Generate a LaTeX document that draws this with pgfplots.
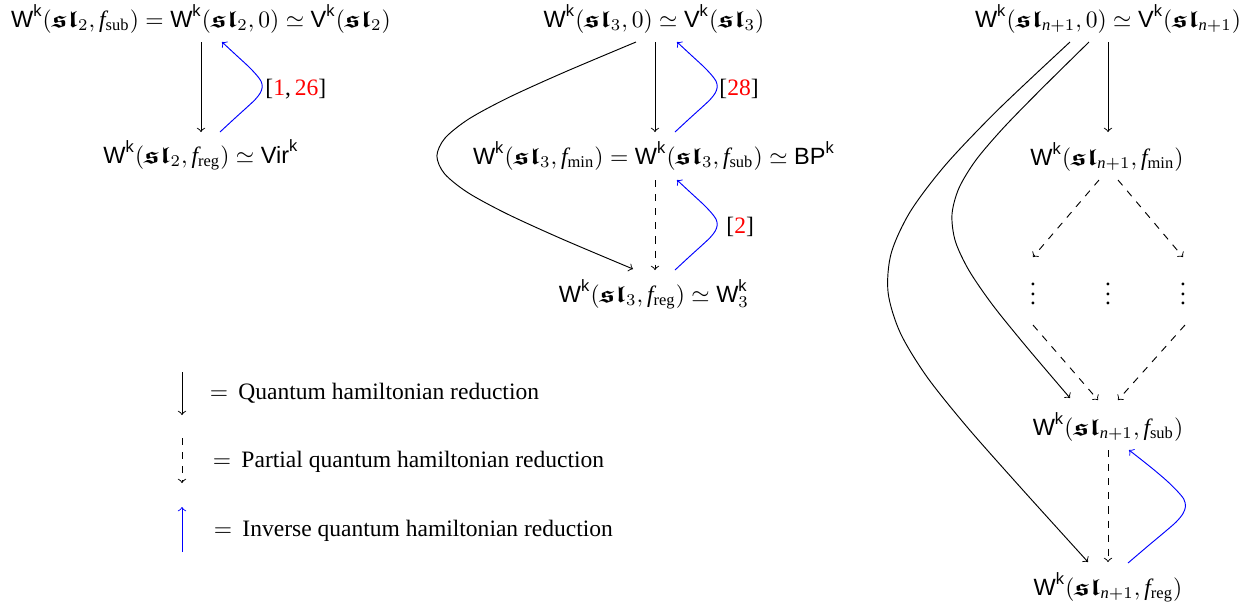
\documentclass[border=0pt]{standalone}
\usepackage{amsmath,amssymb}
\usepackage{graphicx}
\usepackage{fontspec}
\setmainfont{Liberation Serif}
\setsansfont{Liberation Sans}
\usepackage{pgfplots}
\pgfplotsset{compat=1.18}
\newcommand{\sW}{\textsf{W}}
\newcommand{\sV}{\textsf{V}}
\newcommand{\kk}{\textsf{k}}
\renewcommand{\sl}{\mathord{\scalebox{1.3}[1.0]{$\boldsymbol{\mathfrak{sl}}$}}}
\newcommand{\ff}{\mathit{f}}
\newcommand{\nn}{\mathit{n}}
\begin{document}
\begin{tikzpicture}
\begin{axis}[x=0.425pt, y=0.425pt, xmin=0, xmax=1256, ymin=0, ymax=608,
  y dir=reverse, hide axis, clip=false, scale only axis]
\addplot[draw=none, forget plot] coordinates {(0,0) (1256,608)};
% ---------- diagram 1
\addplot[black, ->, no markers] coordinates {(201,42) (201,132)};
\addplot[blue, ->, no markers, smooth] coordinates {(220,132) (234.9,118.2) (246.6,107.6) (255.2,99.5) (260.3,92.9) (262.25,87) (261.0,81.1) (256.2,74.6) (248.3,66.3) (236.8,55.7) (222,42)};
\node[anchor=base, inner sep=0pt] at (axis cs:201,27) {$\sW^{\kk}(\sl_2, \ff_{\mathrm{sub}}) = \sW^{\kk}(\sl_2,0)\simeq \sV^{\kk}(\sl_2)$};
\node[anchor=base, inner sep=0pt] at (axis cs:201,163) {$\sW^{\kk}(\sl_2, \ff_{\mathrm{reg}}) \simeq \textsf{Vir}^{\kk}$};
\node[anchor=base west, inner sep=0pt] at (axis cs:265,95) {[{\color{red}1},\,{\color{red}26}]};
% ---------- diagram 2
\addplot[black, ->, no markers] coordinates {(655,42) (655,132)};
\addplot[black, ->, dashed, no markers] coordinates {(655,180) (655,270)};
\addplot[blue, ->, no markers, smooth] coordinates {(675,132) (689.9,118.2) (701.6,107.6) (710.2,99.5) (715.3,92.9) (717.25,87) (716,81.1) (711.2,74.6) (703.3,66.3) (691.8,55.7) (677,42)};
\addplot[blue, ->, no markers, smooth] coordinates {(675,270) (689.9,256.2) (701.6,245.6) (710.2,237.5) (715.3,230.9) (717.25,225) (716,219.1) (711.2,212.6) (703.3,204.3) (691.8,193.7) (677,180)};
\addplot[black, ->, no markers, smooth] coordinates {(636,42) (564.4,72.2) (508.8,97.4) (468.9,118.9) (445.0,138.1) (436.9,155.9) (444.5,173.7) (468.0,192.7) (507.3,214.0) (562.3,239.1) (633,269)};
\node[anchor=base, inner sep=0pt] at (axis cs:654,27) {$\sW^{\kk}(\sl_3,0)\simeq \sV^{\kk}(\sl_3)$};
\node[anchor=base, inner sep=0pt] at (axis cs:654,164) {$\sW^{\kk}(\sl_3, \ff_{\mathrm{min}}) = \sW^{\kk}(\sl_3, \ff_{\mathrm{sub}})\simeq \textsf{BP}^{\kk}$};
\node[anchor=base, inner sep=0pt] at (axis cs:654,302) {$\sW^{\kk}(\sl_3, \ff_{\mathrm{reg}}) \simeq \sW_3^{\kk}$};
\node[anchor=base west, inner sep=0pt] at (axis cs:719,95) {[{\color{red}28}]};
\node[anchor=base west, inner sep=0pt] at (axis cs:726,233) {[{\color{red}2}]};
% ---------- diagram 3
\addplot[black, ->, no markers] coordinates {(1108,42) (1108,132)};
\addplot[black, ->, dashed, no markers] coordinates {(1099,180) (1033,257)};
\addplot[black, ->, dashed, no markers] coordinates {(1118,180) (1183,257)};
\addplot[black, ->, dashed, no markers] coordinates {(1033,325) (1098,400)};
\addplot[black, ->, dashed, no markers] coordinates {(1185,325) (1118,400)};
\addplot[black, ->, dashed, no markers] coordinates {(1108,450) (1108,562)};
\addplot[blue, ->, no markers, smooth] coordinates {(1128,563) (1148.3,545.7) (1164.2,532.4) (1175.9,522.2) (1182.8,513.9) (1185.5,506.5) (1183.8,499.1) (1177.2,491.0) (1166.5,480.5) (1150.8,467.2) (1129,450)};
\addplot[black, ->, no markers, smooth] coordinates {(1070,42) (999.0,108.8) (946.1,164.2) (910.4,211.4) (891.2,253.2) (888.1,292.6) (900.3,332.9) (927.0,376.9) (967.7,427.7) (1021.5,488.5) (1088,562)};
\addplot[black, ->, no markers, smooth] coordinates {(1089,42) (1041.0,89.3) (1003.3,128.0) (975.9,160.1) (958.9,188.2) (952.0,214.4) (955.3,241.1) (968.9,270.3) (992.5,304.8) (1026.2,346.5) (1070,398)};
\node[anchor=base, inner sep=0pt] at (axis cs:1108,27) {$\sW^{\kk}(\sl_{\nn+1},0)\simeq \sV^{\kk}(\sl_{\nn+1})$};
\node[anchor=base, inner sep=0pt] at (axis cs:1107,165) {$\sW^{\kk}(\sl_{\nn+1}, \ff_{\mathrm{min}})$};
\node[inner sep=0pt] at (axis cs:1033,287) {$\vdots$};
\node[inner sep=0pt] at (axis cs:1108,287) {$\vdots$};
\node[inner sep=0pt] at (axis cs:1183,287) {$\vdots$};
\node[anchor=base, inner sep=0pt] at (axis cs:1108,435) {$\sW^{\kk}(\sl_{\nn+1}, \ff_{\mathrm{sub}})$};
\node[anchor=base, inner sep=0pt] at (axis cs:1108,595) {$\sW^{\kk}(\sl_{\nn+1}, \ff_{\mathrm{reg}})$};
% ---------- legend
\addplot[black, ->, no markers] coordinates {(182,372) (182,415)};
\addplot[black, ->, dashed, no markers] coordinates {(182,438) (182,483)};
\addplot[blue, ->, no markers] coordinates {(182,552) (182,507)};
\node[anchor=base, inner sep=0pt] at (axis cs:219,399) {$=$};
\node[anchor=base west, inner sep=0pt] at (axis cs:238,399) {Quantum hamiltonian reduction};
\node[anchor=base, inner sep=0pt] at (axis cs:222,467) {$=$};
\node[anchor=base west, inner sep=0pt] at (axis cs:241,467) {Partial quantum hamiltonian reduction};
\node[anchor=base, inner sep=0pt] at (axis cs:223,536) {$=$};
\node[anchor=base west, inner sep=0pt] at (axis cs:242,536) {Inverse quantum hamiltonian reduction};
\end{axis}
\end{tikzpicture}
\end{document}
